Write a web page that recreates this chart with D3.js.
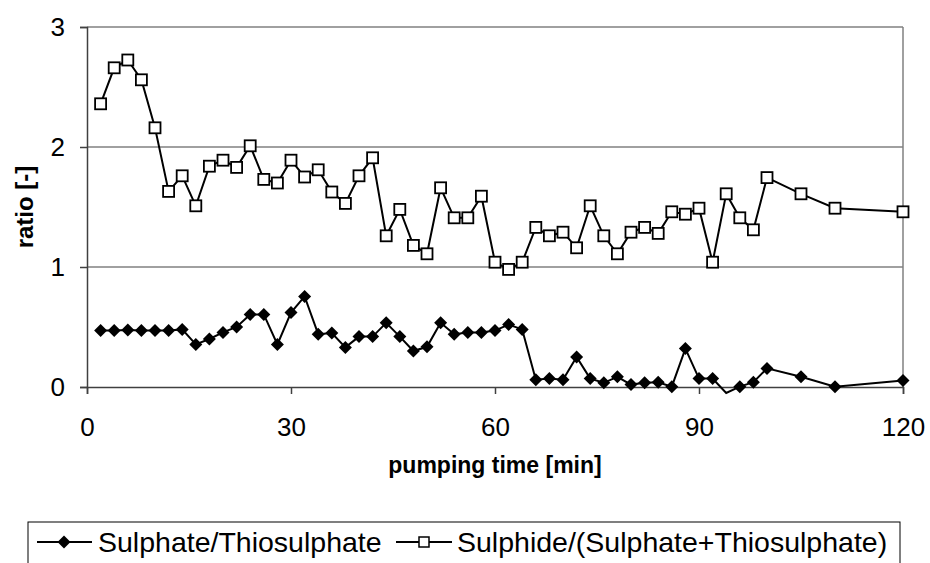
<!DOCTYPE html>
<html><head><meta charset="utf-8">
<script src="https://cdn.jsdelivr.net/npm/d3@7"></script>
<style>body{margin:0;background:#fff}svg{display:block;font-family:"Liberation Sans",Arial,sans-serif}</style>
</head><body>
<svg id="c" width="930" height="563"></svg>
<script>
const timeS1 = [2,4,6,8,10,12,14,16,18,20,22,24,26,28,30,32,34,36,38,40,42,44,46,48,50,52,54,56,58,60,62,64,66,68,70,72,74,76,78,80,82,84,86,88,90,92,94,96,98,100,105,110,120];
const sulphateThio = [0.47,0.47,0.475,0.47,0.47,0.47,0.48,0.355,0.40,0.455,0.50,0.605,0.605,0.355,0.62,0.755,0.44,0.45,0.33,0.42,0.42,0.535,0.42,0.30,0.335,0.535,0.44,0.455,0.455,0.47,0.52,0.48,0.06,0.07,0.06,0.25,0.07,0.035,0.085,0.02,0.035,0.04,0.003,0.32,0.07,0.07,-0.05,0.003,0.04,0.155,0.085,0.003,0.055];
const timeS2 = [2,4,6,8,10,12,14,16,18,20,22,24,26,28,30,32,34,36,38,40,42,44,46,48,50,52,54,56,58,60,62,64,66,68,70,72,74,76,78,80,82,84,86,88,90,92,94,96,98,100,105,110,120];
const sulphideRatio = [2.36,2.66,2.725,2.56,2.16,1.63,1.76,1.51,1.84,1.89,1.83,2.01,1.73,1.70,1.89,1.75,1.81,1.625,1.53,1.76,1.91,1.26,1.48,1.18,1.11,1.66,1.41,1.41,1.59,1.04,0.98,1.04,1.33,1.26,1.29,1.16,1.51,1.26,1.11,1.29,1.33,1.28,1.46,1.44,1.49,1.04,1.61,1.41,1.31,1.745,1.61,1.49,1.46];
const xTicks = [0,30,60,90,120];
const yTicks = [0,1,2,3];
const seriesNames = ["Sulphate/Thiosulphate","Sulphide/(Sulphate+Thiosulphate)"];

const svg = d3.select("#c");
const L=87, R=903, T=27, B=387;
const x = d3.scaleLinear().domain([0,120]).range([L,R]);
const y = d3.scaleLinear().domain([0,3]).range([B,T]);

// gridlines
svg.append("g").selectAll("line").data(yTicks.filter(d=>d>0)).join("line")
  .attr("x1",L).attr("x2",R).attr("y1",d=>y(d)).attr("y2",d=>y(d))
  .attr("stroke","#808080").attr("stroke-width",1.5);
svg.append("line").attr("x1",R).attr("x2",R).attr("y1",T).attr("y2",B).attr("stroke","#808080").attr("stroke-width",1.5);

// axes
const yAxis = d3.axisLeft(y).tickValues(yTicks).tickSize(7).tickPadding(15).tickFormat(d3.format("d"));
const gy = svg.append("g").attr("transform",`translate(${L},0)`).call(yAxis);
const xAxis = d3.axisBottom(x).tickValues(xTicks).tickSize(7).tickPadding(24).tickFormat(d3.format("d"));
const gx = svg.append("g").attr("transform",`translate(0,${B})`).call(xAxis);
[gy,gx].forEach(g=>{
  g.select(".domain").attr("stroke","#404040").attr("stroke-width",1.5);
  g.selectAll(".tick line").attr("stroke","#404040").attr("stroke-width",1.5);
  g.selectAll(".tick text").attr("font-size",26).attr("fill","#000").attr("font-family","Liberation Sans, Arial, sans-serif");
});

// titles
svg.append("text").attr("x",(L+R)/2).attr("y",473).attr("text-anchor","middle")
  .attr("font-size",23).attr("font-weight","bold").text("pumping time [min]");
svg.append("text").attr("transform",`translate(33,${(T+B)/2}) rotate(-90)`).attr("text-anchor","middle")
  .attr("font-size",24).attr("font-weight","bold").text("ratio [-]");

// series
const d1 = timeS1.map((t,i)=>({t,v:sulphateThio[i]}));
const d2 = timeS2.map((t,i)=>({t,v:sulphideRatio[i]}));
const line = d3.line().x(d=>x(d.t)).y(d=>y(d.v));
svg.append("path").datum(d1).attr("d",line).attr("fill","none").attr("stroke","#000").attr("stroke-width",2);
svg.append("path").datum(d2).attr("d",line).attr("fill","none").attr("stroke","#000").attr("stroke-width",2);

function drawDiamond(g, cx, cy, s){
  g.append("path").attr("d",`M${cx},${cy-s}L${cx+s},${cy}L${cx},${cy+s}L${cx-s},${cy}Z`).attr("fill","#000");
}
const gm1 = svg.append("g");
d1.filter(d=>d.v>=0).forEach(d=>drawDiamond(gm1, x(d.t), y(d.v), 6.5));
svg.append("g").selectAll("rect").data(d2).join("rect")
  .attr("x",d=>x(d.t)-5.5).attr("y",d=>y(d.v)-5.5).attr("width",11).attr("height",11)
  .attr("fill","#fff").attr("stroke","#000").attr("stroke-width",1.8);

// legend
const lg = svg.append("g");
const ly = 542;
lg.append("rect").attr("x",28).attr("y",522).attr("width",872).attr("height",60)
  .attr("fill","none").attr("stroke","#000").attr("stroke-width",1);
lg.append("line").attr("x1",37).attr("x2",92).attr("y1",ly).attr("y2",ly).attr("stroke","#000").attr("stroke-width",2);
drawDiamond(lg,64,ly,6.5);
lg.append("text").attr("x",98).attr("y",ly+10).attr("font-size",28.5).text(seriesNames[0]);
lg.append("line").attr("x1",396).attr("x2",452).attr("y1",ly).attr("y2",ly).attr("stroke","#000").attr("stroke-width",2);
lg.append("rect").attr("x",419).attr("y",ly-5).attr("width",10).attr("height",10).attr("fill","#fff").attr("stroke","#000").attr("stroke-width",1.5);
lg.append("text").attr("x",457).attr("y",ly+10).attr("font-size",28.5).text(seriesNames[1]);
</script>
</body></html>
